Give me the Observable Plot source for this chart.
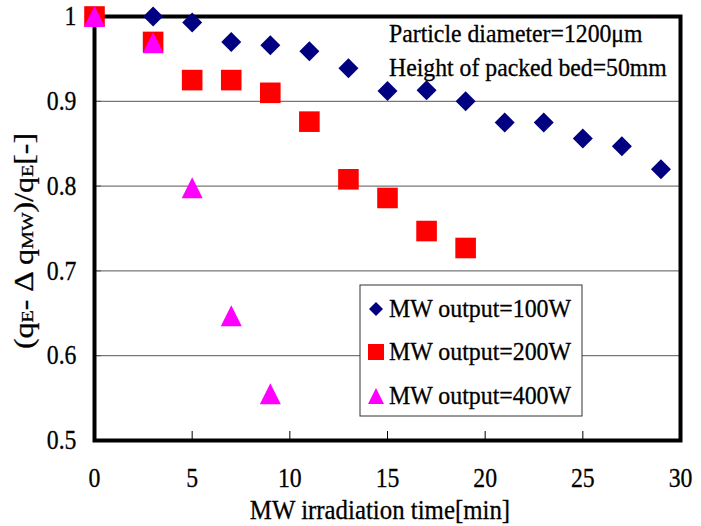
<!DOCTYPE html>
<html>
<head>
<meta charset="utf-8">
<script src="https://cdn.jsdelivr.net/npm/d3@7"></script>
<script src="https://cdn.jsdelivr.net/npm/@observablehq/plot@0.6"></script>
<style>
  html, body { margin: 0; padding: 0; background: white; }
  #chart { width: 701px; height: 526px; }
</style>
</head>
<body>
<div id="chart"></div>
<script>
// ---- data ----
const seriesNames = ["MW output=100W", "MW output=200W", "MW output=400W"];
const time100 = [0, 3, 5, 7, 9, 11, 13, 15, 17, 19, 21, 23, 25, 27, 29];
const val100  = [1.0, 1.0, 0.993, 0.970, 0.966, 0.959, 0.939, 0.912, 0.913, 0.900, 0.875, 0.875, 0.856, 0.847, 0.820];
const time200 = [0, 3, 5, 7, 9, 11, 13, 15, 17, 19];
const val200  = [1.0, 0.970, 0.925, 0.925, 0.910, 0.876, 0.808, 0.786, 0.747, 0.727];
const time400 = [0, 3, 5, 7, 9];
const val400  = [1.0, 0.969, 0.798, 0.647, 0.555];
const xTicks = [0, 5, 10, 15, 20, 25, 30];
const xTickLabels = ["0", "5", "10", "15", "20", "25", "30"];
const yTicks = [0.5, 0.6, 0.7, 0.8, 0.9, 1];
const yTickLabels = ["0.5", "0.6", "0.7", "0.8", "0.9", "1"];
const gridVals = [0.6, 0.7, 0.8, 0.9];
const xTitle = "MW irradiation time[min]";
const notes = ["Particle diameter=1200\u03bcm", "Height of packed bed=50mm"];

const colors = ["#000080", "#ff0000", "#ff00ff"];

// custom symbols: r = half of the marker's box size
const half = size => Math.sqrt(size / Math.PI);
const diamondSym = { draw(ctx, size) { const h = half(size); ctx.moveTo(0, -h); ctx.lineTo(h, 0); ctx.lineTo(0, h); ctx.lineTo(-h, 0); ctx.closePath(); } };
const squareSym = { draw(ctx, size) { const h = half(size); ctx.rect(-h, -h, 2 * h, 2 * h); } };
const triangleSym = { draw(ctx, size) { const h = half(size); ctx.moveTo(0, -h); ctx.lineTo(h, h); ctx.lineTo(-h, h); ctx.closePath(); } };
const symbols = [diamondSym, squareSym, triangleSym];
const radii = [10, 10.3, 10.5];

const d100 = time100.map((t, i) => ({ t, v: val100[i] }));
const d200 = time200.map((t, i) => ({ t, v: val200[i] }));
const d400 = time400.map((t, i) => ({ t, v: val400[i] }));
const sets = [d100, d200, d400];

const FONT = "'Liberation Serif', 'Times New Roman', serif";

const svg = Plot.plot({
  width: 701,
  height: 526,
  marginLeft: 94,
  marginRight: 21,
  marginTop: 16,
  marginBottom: 86,
  style: { fontFamily: FONT, background: "white", color: "black" },
  x: { domain: [0, 30] },
  y: { domain: [0.5, 1] },
  marks: [
    Plot.gridY(gridVals, { stroke: "#555", strokeOpacity: 1, strokeWidth: 1 }),
    Plot.axisY(yTicks, { tickSize: -7, text: null, stroke: "#555", label: null }),
    Plot.axisY(yTicks, { tickSize: 0, tickPadding: 18, fontSize: 27, label: null,
      tickFormat: d => yTickLabels[yTicks.indexOf(d)] }),
    Plot.axisX(xTicks.slice(1, -1), { tickSize: -9, text: null, label: null }),
    Plot.axisX(xTicks, { tickSize: 0, tickPadding: 27, fontSize: 27, label: null,
      tickFormat: d => xTickLabels[xTicks.indexOf(d)] }),
    Plot.frame({ stroke: "black", strokeWidth: 4 }),
    ...sets.map((data, k) => Plot.dot(data, {
      x: "t", y: "v", symbol: symbols[k], r: radii[k], fill: colors[k], stroke: "none"
    }))
  ]
});

const s = d3.select(svg);
// horizontally condense the axis tick labels (Times-like narrow rendering)
s.selectAll("text").each(function () {
  const t = this.getAttribute("transform") || "";
  this.setAttribute("transform", `${t} scale(0.88,1)`);
  this.setAttribute("stroke", "black");
  this.setAttribute("stroke-width", 0.3);
});

function addText(parent, x, y, size, sx, anchor, txt) {
  return parent.append("text").attr("transform", `translate(${x},${y}) scale(${sx},1)`)
    .attr("text-anchor", anchor).attr("font-family", FONT).attr("font-size", size)
    .attr("fill", "black").attr("stroke", "black").attr("stroke-width", 0.3).text(txt);
}

// notes (top-right)
notes.forEach((txt, i) => addText(s, 389, 42 + i * 34, 25, 0.95, "start", txt));

// x title
addText(s, 380, 519, 27, 0.92, "middle", xTitle);

// y title with subscripts
const yt = s.append("text").attr("transform", "translate(33,241) rotate(-90)")
  .attr("text-anchor", "middle").attr("font-family", FONT).attr("font-size", 27)
  .attr("fill", "black").attr("stroke", "black").attr("stroke-width", 0.3)
  .attr("textLength", 216).attr("lengthAdjust", "spacingAndGlyphs");
yt.append("tspan").text("(q");
yt.append("tspan").attr("font-size", 17).text("E");
yt.append("tspan").text("- \u0394 q");
yt.append("tspan").attr("font-size", 17).text("MW");
yt.append("tspan").text(")/q");
yt.append("tspan").attr("font-size", 17).text("E");
yt.append("tspan").text("[-]");

// legend
const lg = s.append("g");
lg.append("rect").attr("x", 360).attr("y", 285).attr("width", 222).attr("height", 131)
  .attr("fill", "white").attr("stroke", "#333").attr("stroke-width", 1);
const rowY = [309, 352, 396];
seriesNames.forEach((name, k) => {
  const sz = Math.PI * Math.pow(k === 0 ? 7 : 8, 2);
  lg.append("path").attr("transform", `translate(376,${rowY[k]})`)
    .attr("d", d3.symbol(symbols[k], sz)()).attr("fill", colors[k]);
  addText(lg, 389, rowY[k] + 8, 25, 0.955, "start", name);
});

document.getElementById("chart").appendChild(svg);
</script>
</body>
</html>
